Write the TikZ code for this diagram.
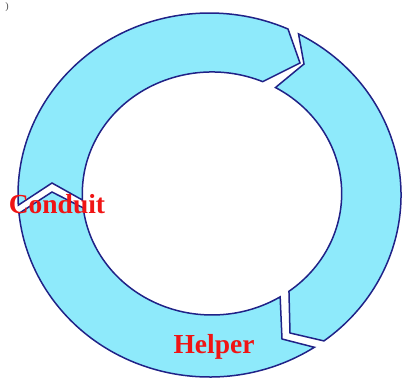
\documentclass[tikz,border=0pt]{standalone}
\usepackage{fontspec}
\setmainfont{Liberation Serif}
\usetikzlibrary{calc}
\definecolor{ringfill}{RGB}{142,234,251}
\definecolor{ringline}{RGB}{32,34,135}
\definecolor{labred}{RGB}{240,20,20}
\tikzset{
  seg/.style={fill=ringfill, draw=ringline, line width=1.5pt, line join=miter},
  lab/.style={text=labred, font=\fontsize{27.5}{29}\selectfont\bfseries, inner sep=0pt, anchor=base},
}
\begin{document}
\begin{tikzpicture}[x=1pt,y=-1pt]
\useasboundingbox (0,0) rectangle (402,379);
\coordinate (O) at (209.5,195);
\coordinate (I) at (212,193.5);
% arrowhead tips and tail notches
\coordinate (h1) at (300,63);
\coordinate (n1) at (52,183);
\coordinate (h2) at (290,333);
\coordinate (n2) at (304,64);
\coordinate (h3) at (52,192);
\coordinate (n3) at (282,339);
% segment 1: left -> top -> top right
\path[seg] ($(O)+(176.8:191.5 and 182)$)
  arc[start angle=176.8, end angle=294.2, x radius=191.5, y radius=182]
  -- (h1) -- ($(I)+(293:129.7 and 121.5)$)
  arc[start angle=293, end angle=176.9, x radius=129.7, y radius=121.5]
  -- (n1) -- cycle;
% segment 2: top right -> right -> bottom right
\path[seg] ($(O)+(297.7:191.5 and 182)$)
  arc[start angle=297.7, end angle=413.3, x radius=191.5, y radius=182]
  -- (h2) -- ($(I)+(413.6:129.7 and 121.5)$)
  arc[start angle=413.6, end angle=299.3, x radius=129.7, y radius=121.5]
  -- (n2) -- cycle;
% segment 3: bottom right -> bottom -> left
\path[seg] ($(O)+(56.8:191.5 and 182)$)
  arc[start angle=56.8, end angle=174.2, x radius=191.5, y radius=182]
  -- (h3) -- ($(I)+(173.2:129.7 and 121.5)$)
  arc[start angle=173.2, end angle=58.3, x radius=129.7, y radius=121.5]
  -- (n3) -- cycle;
\node[lab] (conduit) at (57,214) {Conduit};
\node[lab] (helper) at (214,354) {Helper};
\node[inner sep=0pt, anchor=base, font=\fontsize{10}{10}\selectfont, text=black!70] (paren) at (7,10) {)};
\end{tikzpicture}
\end{document}
